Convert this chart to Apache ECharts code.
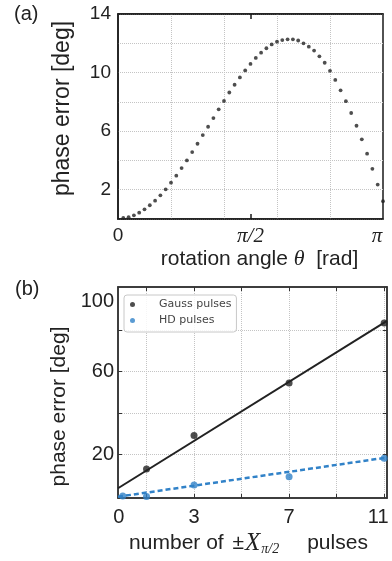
<!DOCTYPE html>
<html>
<head>
<meta charset="utf-8">
<script src="https://cdn.jsdelivr.net/npm/echarts@6/dist/echarts.min.js"></script>
<style>
  html, body { margin: 0; padding: 0; background: #fff; }
  #chart { width: 392px; height: 561px; }
</style>
</head>
<body>
<div id="chart"></div>
<script>
// (a) rotation angle in units of pi, phase error in deg
const thetaOverPi = [
  0.02, 0.04, 0.06, 0.08, 0.10, 0.12, 0.14, 0.16, 0.18, 0.20,
  0.22, 0.24, 0.26, 0.28, 0.30, 0.32, 0.34, 0.36, 0.38, 0.40,
  0.42, 0.44, 0.46, 0.48, 0.50, 0.52, 0.54, 0.56, 0.58, 0.60,
  0.62, 0.64, 0.66, 0.68, 0.70, 0.72, 0.74, 0.76, 0.78, 0.80,
  0.82, 0.84, 0.86, 0.88, 0.90, 0.92, 0.94, 0.96, 0.98, 1.00
];
const phaseErrA = [
  0.07, 0.12, 0.25, 0.43, 0.66, 0.94, 1.25, 1.62, 2.03, 2.48,
  2.96, 3.48, 4.00, 4.57, 5.14, 5.73, 6.30, 6.89, 7.49, 8.06,
  8.64, 9.17, 9.67, 10.15, 10.59, 11.00, 11.36, 11.66, 11.92, 12.11,
  12.22, 12.27, 12.27, 12.19, 12.00, 11.77, 11.50, 11.11, 10.67, 10.12,
  9.50, 8.79, 8.05, 7.24, 6.37, 5.44, 4.46, 3.43, 2.35, 1.22
];
const thetaGrid = [0.2, 0.4, 0.6, 0.8];
const thetaLabels = [0, 0.5, 1];
const thetaTicks = [0.5];

// (b) number of pulses vs phase error
const gaussPulses = [1, 3, 7, 11];
const gaussErr = [13.0, 29.1, 54.4, 83.3];
const hdPulses = [0, 1, 3, 7, 11];
const hdErr = [0.0, -0.3, 5.3, 9.3, 18.2];
const gaussFitX = [-0.2, 11.12];
const gaussFitY = [3.7, 84.4];
const hdFitX = [-0.2, 11.12];
const hdFitY = [-0.4, 18.5];
const pulseLabels = [0, 3, 7, 11];
const pulseTicks = [1, 3, 5, 7, 9, 11];
const errLabels = [20, 60, 100];
const errTicks = [20, 40, 60, 80];

const zip = (xs, ys) => xs.map((x, i) => [x, ys[i]]);

const SANS = "'Liberation Sans', Arial, sans-serif";
const SERIF = "'Liberation Serif', 'Times New Roman', serif";
const gridLine = { show: true, lineStyle: { color: "#c4c4c4", type: "dotted", width: 1 } };

const chart = echarts.init(document.getElementById("chart"));
const option = {
  animation: false,
  title: [
    { text: "(a)", left: 14, top: 4, padding: 0, textStyle: { fontFamily: SANS, fontSize: 20, fontWeight: "normal", color: "#222" } },
    { text: "(b)", left: 15, top: 279, padding: 0, textStyle: { fontFamily: SANS, fontSize: 20, fontWeight: "normal", color: "#222" } },
  ],
  grid: [
    { left: 118, top: 14, width: 265, height: 205, show: true, borderColor: "#1a1a1a", borderWidth: 1.5 },
    { left: 118, top: 287, width: 269, height: 211, show: true, borderColor: "#333", borderWidth: 1.5 },
    { left: 118, top: 14, width: 265, height: 205 },
  ],
  legend: {
    data: ["Gauss pulses", "HD pulses"],
    orient: "vertical",
    left: 124,
    top: 295,
    padding: [3, 5, 5, 6],
    itemWidth: 5,
    itemHeight: 5,
    itemGap: 3,
    icon: "circle",
    selectedMode: false,
    borderColor: "#c8c8c8",
    borderWidth: 1,
    borderRadius: 3,
    backgroundColor: "rgba(255,255,255,0.85)",
    textStyle: { fontFamily: "'DejaVu Sans', sans-serif", fontSize: 11, color: "#444", lineHeight: 13, padding: [0, 0, 0, 19] },
  },
  xAxis: [
    {
      gridIndex: 0, type: "value", position: "bottom", min: 0, max: 1,
      axisLine: { onZero: false, lineStyle: { color: "#1a1a1a", width: 1.5 } },
      axisTick: { show: true, inside: true, length: 5, customValues: thetaTicks, lineStyle: { color: "#1a1a1a", width: 1.5 } },
      splitLine: { show: false },
      axisLabel: {
        customValues: thetaLabels, margin: 7,
        formatter: (v) => v === 0 ? "{n|0}" : v === 0.5 ? "{m|π/2}" : "{r|π}",
        rich: {
          n: { fontFamily: SANS, fontSize: 19, color: "#222" },
          m: { fontFamily: SERIF, fontStyle: "italic", fontSize: 21, color: "#222" },
          r: { fontFamily: SERIF, fontStyle: "italic", fontSize: 21, color: "#222", padding: [0, 12, 0, 0] },
        },
      },
      name: "{t|rotation angle }{m|θ}{t|  [rad]}",
      nameLocation: "middle",
      nameGap: 26,
      nameTextStyle: {
        padding: [0, 0, 0, 18],
        rich: {
          t: { fontFamily: SANS, fontSize: 21, color: "#222" },
          m: { fontFamily: SERIF, fontStyle: "italic", fontSize: 22, color: "#222" },
        },
      },
    },
    {
      gridIndex: 0, type: "value", position: "top", min: 0, max: 1,
      axisLine: { onZero: false, lineStyle: { color: "#1a1a1a", width: 1.5 } },
      axisTick: { show: true, inside: true, length: 5, customValues: thetaTicks, lineStyle: { color: "#1a1a1a", width: 1.5 } },
      axisLabel: { show: false },
      splitLine: { show: false },
    },
    {
      gridIndex: 2, type: "value", position: "bottom", min: 0, max: 1,
      axisLine: { show: false, onZero: false },
      axisTick: { show: false, customValues: thetaGrid },
      axisLabel: { show: false },
      splitLine: gridLine,
    },
    {
      gridIndex: 1, type: "value", position: "bottom", min: -0.2, max: 11.12,
      axisLine: { onZero: false, lineStyle: { color: "#333", width: 1.5 } },
      axisTick: { show: true, inside: true, length: 4, customValues: pulseTicks, lineStyle: { color: "#333" } },
      splitLine: gridLine,
      axisLabel: {
        customValues: pulseLabels, margin: 9,
        formatter: (v) => v === 0 ? "{l|0}" : v === 11 ? "{r|11}" : "{n|" + v + "}",
        rich: {
          n: { fontFamily: SANS, fontSize: 20, color: "#222" },
          l: { fontFamily: SANS, fontSize: 20, color: "#222", padding: [0, 8, 0, 0] },
          r: { fontFamily: SANS, fontSize: 20, color: "#222", padding: [0, 12, 0, 0] },
        },
      },
      name: "{t|number of }{p|±}{x|X}{s|π/2}{t|pulses}",
      nameLocation: "middle",
      nameGap: 32,
      nameTextStyle: {
        padding: [0, 8, 0, 0],
        rich: {
          t: { fontFamily: SANS, fontSize: 21, color: "#222" },
          p: { fontFamily: SANS, fontSize: 21, color: "#222", padding: [0, 1, 0, 3] },
          x: { fontFamily: SERIF, fontStyle: "italic", fontSize: 25, color: "#222" },
          s: { fontFamily: SERIF, fontStyle: "italic", fontSize: 14, color: "#222", padding: [12, 28, 0, 1] },
        },
      },
    },
    {
      gridIndex: 1, type: "value", position: "top", min: -0.2, max: 11.12,
      axisLine: { onZero: false, lineStyle: { color: "#333", width: 1.5 } },
      axisTick: { show: true, inside: true, length: 4, customValues: pulseTicks, lineStyle: { color: "#333" } },
      axisLabel: { show: false },
      splitLine: { show: false },
    },
  ],
  yAxis: [
    {
      gridIndex: 0, type: "value", min: 0, max: 14, interval: 2,
      axisLine: { show: true, onZero: false, lineStyle: { color: "#1a1a1a", width: 1.5 } },
      axisTick: { show: false },
      splitLine: gridLine,
      axisLabel: {
        margin: 7, fontFamily: SANS, fontSize: 19, color: "#222",
        formatter: (v) => (v % 4 === 2 ? String(v) : ""),
      },
      name: "phase error [deg]",
      nameLocation: "middle",
      nameGap: 44,
      nameTextStyle: { fontFamily: SANS, fontSize: 23, color: "#222", padding: [0, 0, 0, 16] },
    },
    {
      gridIndex: 2, type: "value", min: 0, max: 14, show: false,
    },
    {
      gridIndex: 1, type: "value", position: "left", min: -1, max: 100.7,
      axisLine: { show: true, onZero: false, lineStyle: { color: "#333", width: 1.5 } },
      axisTick: { show: true, inside: true, length: 4, customValues: errTicks, lineStyle: { color: "#333" } },
      splitLine: gridLine,
      axisLabel: {
        customValues: errLabels, margin: 4,
        formatter: (v) => v === 100 ? "{d|100}" : "{n|" + v + "}",
        rich: {
          n: { fontFamily: SANS, fontSize: 20, color: "#222" },
          d: { fontFamily: SANS, fontSize: 20, color: "#222", padding: [27, 0, 0, 0] },
        },
      },
      name: "phase error [deg]",
      nameLocation: "middle",
      nameGap: 44,
      nameTextStyle: { fontFamily: SANS, fontSize: 21, color: "#222", padding: [0, 28, 0, 0] },
    },
    {
      gridIndex: 1, type: "value", position: "right", min: -1, max: 100.7,
      axisLine: { show: true, onZero: false, lineStyle: { color: "#333", width: 1.5 } },
      axisTick: { show: true, inside: true, length: 4, customValues: errTicks, lineStyle: { color: "#333" } },
      axisLabel: { show: false },
      splitLine: { show: false },
    },
  ],
  series: [
    {
      name: "rotation", type: "scatter", xAxisIndex: 0, yAxisIndex: 0,
      data: zip(thetaOverPi, phaseErrA),
      symbolSize: 3.8, itemStyle: { color: "#222" },
    },
    {
      name: "Gauss fit", type: "line", xAxisIndex: 3, yAxisIndex: 2,
      data: zip(gaussFitX, gaussFitY), symbol: "none",
      lineStyle: { color: "#222", width: 2 },
    },
    {
      name: "HD fit", type: "line", xAxisIndex: 3, yAxisIndex: 2,
      data: zip(hdFitX, hdFitY), symbol: "none",
      lineStyle: { color: "#3182c8", width: 2.5, type: [5, 3] },
    },
    {
      name: "Gauss pulses", type: "scatter", xAxisIndex: 3, yAxisIndex: 2,
      data: zip(gaussPulses, gaussErr), symbolSize: 7,
      itemStyle: { color: "#222" }, z: 5,
    },
    {
      name: "HD pulses", type: "scatter", xAxisIndex: 3, yAxisIndex: 2,
      data: zip(hdPulses, hdErr), symbolSize: 7,
      itemStyle: { color: "#3182c8" }, z: 5,
    },
  ],
};
chart.setOption(option);
</script>
</body>
</html>
